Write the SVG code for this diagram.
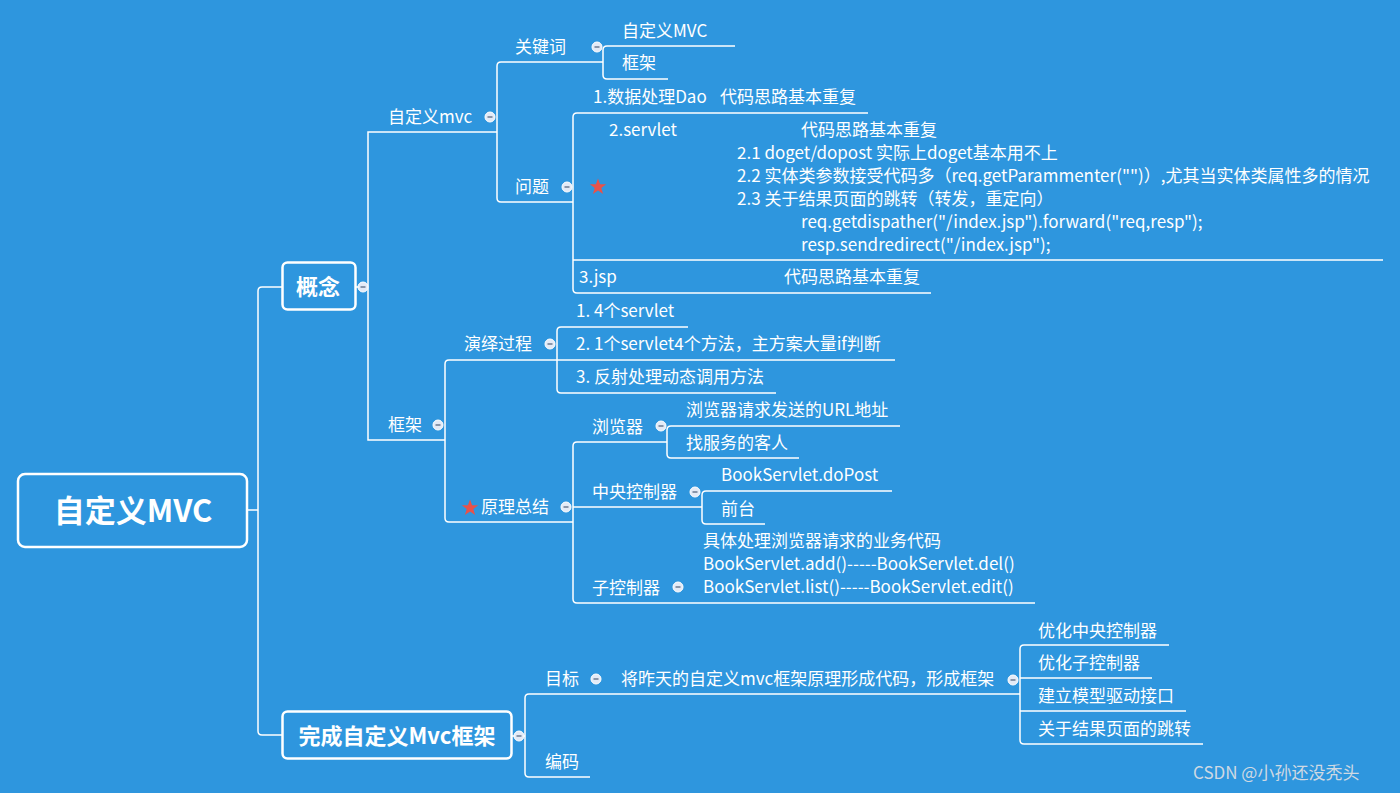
<svg xmlns="http://www.w3.org/2000/svg" width="1400" height="793" viewBox="0 0 1400 793">
<style>
text{font-family:"Microsoft YaHei","Noto Sans CJK SC","Noto Sans",sans-serif;fill:#ffffff;font-size:17px}
.b{font-weight:bold;font-size:22px}
.r{font-weight:bold;font-size:31px}
.ln{fill:none;stroke:#ffffff;stroke-width:1.5}
.box{fill:none;stroke:#ffffff;stroke-width:2.5}
.wm{fill:#cfd9e3;font-size:17px}
</style>
<defs>
<g id="col"><circle r="5" fill="#e3eaf6" stroke="#ffffff" stroke-width="1"/><line x1="-2.5" y1="0" x2="2.5" y2="0" stroke="#6b7a90" stroke-width="1.5"/></g>
<polygon id="star" points="0,-8.5 2.1,-2.8 8.2,-2.8 3.3,1 5.1,7 0,3.4 -5.1,7 -3.3,1 -8.2,-2.8 -2.1,-2.8" fill="#e8524a"/>
</defs>
<rect width="1400" height="793" fill="#2e96de"/>
<g id="connectors">
<path class="ln" d="M248,510 H258 M282,287 H262 Q258,287 258,291 V731 Q258,735 262,735 H282"/>
<path class="ln" d="M355,287 H368 M497,132 H368 V440 H445"/>
<path class="ln" d="M603,62 H501 Q497,62 497,66 V198 Q497,202 501,202 H573"/>
<path class="ln" d="M735,46 H607 Q603,46 603,50 V75 Q603,79 607,79 H668"/>
<path class="ln" d="M868,113 H577 Q573,113 573,117 V289 Q573,293 577,293 H931 M573,260 H1383"/>
<path class="ln" d="M557,360 H449 Q445,360 445,364 V518 Q445,522 449,522 H573"/>
<path class="ln" d="M688,327 H561 Q557,327 557,331 V389 Q557,393 561,393 H776 M557,360 H895"/>
<path class="ln" d="M667,442 H577 Q573,442 573,446 V599 Q573,603 577,603 H1035 M573,507 H702"/>
<path class="ln" d="M900,426 H671 Q667,426 667,430 V454 Q667,458 671,458 H799"/>
<path class="ln" d="M892,491 H706 Q702,491 702,495 V520 Q702,524 706,524 H765"/>
<path class="ln" d="M512,736 H525 M1020,694 H529 Q525,694 525,698 V773 Q525,777 529,777 H590"/>
<path class="ln" d="M1169,645 H1024 Q1020,645 1020,649 V740 Q1020,744 1024,744 H1203 M1020,678 H1152 M1020,711 H1186"/>
</g>
<g id="root">
<rect class="box" x="18" y="474" width="229" height="73" rx="7" stroke-width="3"/>
<text class="r" x="133" y="522" text-anchor="middle">自定义MVC</text>
</g>
<g id="gainian">
<rect class="box" x="282.5" y="262.5" width="73" height="47" rx="5"/>
<text class="b" x="318" y="295" text-anchor="middle">概念</text>
<use href="#col" x="363" y="287"/>
</g>
<g id="wancheng">
<rect class="box" x="282.5" y="711.5" width="229" height="47" rx="5"/>
<text class="b" x="397" y="744" text-anchor="middle">完成自定义Mvc框架</text>
<use href="#col" x="519" y="736"/>
</g>
<g id="zdymvc"><text x="388" y="123">自定义mvc</text><use href="#col" x="490" y="117"/></g>
<g id="guanjianci"><text x="515" y="53">关键词</text><use href="#col" x="597" y="47"/></g>
<g id="kw1"><text x="622" y="37">自定义MVC</text></g>
<g id="kw2"><text x="622" y="69">框架</text></g>
<g id="wenti"><text x="515" y="193">问题</text><use href="#col" x="567" y="187"/></g>
<g id="q1"><text x="593" y="103">1.数据处理Dao<tspan x="720">代码思路基本重复</tspan></text></g>
<g id="q2">
<use href="#star" x="598" y="187"/>
<text x="609" y="136">2.servlet<tspan x="801">代码思路基本重复</tspan></text>
<text x="737" y="159">2.1 doget/dopost 实际上doget基本用不上</text>
<text x="737" y="182">2.2 实体类参数接受代码多（req.getParammenter("")）,尤其当实体类属性多的情况</text>
<text x="737" y="205">2.3 关于结果页面的跳转（转发，重定向）</text>
<text x="801" y="228">req.getdispather("/index.jsp").forward("req,resp");</text>
<text x="801" y="251">resp.sendredirect("/index.jsp");</text>
</g>
<g id="q3"><text x="579" y="283">3.jsp<tspan x="784">代码思路基本重复</tspan></text></g>
<g id="kuangjia"><text x="388" y="431">框架</text><use href="#col" x="438" y="425"/></g>
<g id="yanyi"><text x="464" y="350">演绎过程</text><use href="#col" x="550" y="344"/></g>
<g id="y1"><text x="576" y="317">1. 4个servlet</text></g>
<g id="y2"><text x="576" y="350">2. 1个servlet4个方法，主方案大量if判断</text></g>
<g id="y3"><text x="576" y="383">3. 反射处理动态调用方法</text></g>
<g id="yuanli"><use href="#star" x="470" y="508"/><text x="481" y="513">原理总结</text><use href="#col" x="566" y="507"/></g>
<g id="liulanqi"><text x="592" y="433">浏览器</text><use href="#col" x="661" y="426"/></g>
<g id="l1"><text x="686" y="416">浏览器请求发送的URL地址</text></g>
<g id="l2"><text x="686" y="449">找服务的客人</text></g>
<g id="zhongyang"><text x="592" y="498">中央控制器</text><use href="#col" x="695" y="492"/></g>
<g id="z1"><text x="721" y="481">BookServlet.doPost</text></g>
<g id="z2"><text x="721" y="515">前台</text></g>
<g id="zikong"><text x="592" y="594">子控制器</text><use href="#col" x="678" y="587"/></g>
<g id="zk1">
<text x="703" y="547">具体处理浏览器请求的业务代码</text>
<text x="703" y="570">BookServlet.add()-----BookServlet.del()</text>
<text x="703" y="593">BookServlet.list()-----BookServlet.edit()</text>
</g>
<g id="mubiao"><text x="545" y="685">目标</text><use href="#col" x="596" y="679"/></g>
<g id="m1"><text x="621" y="685">将昨天的自定义mvc框架原理形成代码，形成框架</text><use href="#col" x="1013" y="680"/></g>
<g id="o1"><text x="1038" y="637">优化中央控制器</text></g>
<g id="o2"><text x="1038" y="669">优化子控制器</text></g>
<g id="o3"><text x="1038" y="702">建立模型驱动接口</text></g>
<g id="o4"><text x="1038" y="735">关于结果页面的跳转</text></g>
<g id="bianma"><text x="545" y="768">编码</text></g>
<text class="wm" x="1193" y="779">CSDN @小孙还没秃头</text>
</svg>
